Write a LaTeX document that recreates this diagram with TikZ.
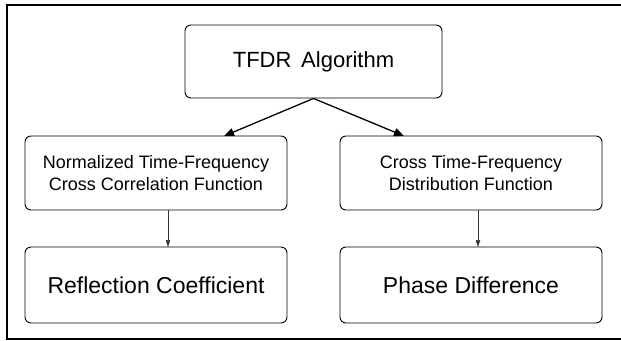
\documentclass[tikz,border=0pt]{standalone}
\usepackage{fontspec}
\setmainfont{Liberation Sans}
\usetikzlibrary{arrows.meta}
\begin{document}
\begin{tikzpicture}[x=1pt,y=-1pt,
  box/.style={draw=black,line width=0.9pt,rounded corners=6pt,inner sep=0pt,align=center},
  bigtext/.style={font=\fontsize{23}{27}\selectfont},
  toptext/.style={font=\fontsize{22}{26}\selectfont},
  midtext/.style={font=\fontsize{18}{22}\selectfont},
  mainarrow/.style={line width=1.3pt,-{Triangle[length=10pt,width=8pt]}},
  thinarrow/.style={line width=0.5pt,draw=black!80,-{Triangle[length=7pt,width=4.5pt]}}
]
\useasboundingbox (0,0) rectangle (621,340);
\fill[white] (0,0) rectangle (621,340);
% frame
\draw[line width=1.6pt] (621,5) -- (7,5) -- (7,340);
\draw[line width=1.4pt] (7,339) -- (621,339);
% nodes
\node[box,toptext,minimum width=257pt,minimum height=73pt] (T) at (313.5,61.5) {TFDR\ \,Algorithm};
\node[box,midtext,minimum width=262pt,minimum height=74pt] (L) at (156,173) {Normalized Time-Frequency\\Cross Correlation Function};
\node[box,midtext,minimum width=262pt,minimum height=74pt] (R) at (471,173) {Cross Time-Frequency\\Distribution Function};
\node[box,bigtext,minimum width=262pt,minimum height=76pt] (LB) at (156,285) {Reflection Coefficient};
\node[box,bigtext,minimum width=262pt,minimum height=76pt] (RB) at (471,285) {Phase Difference};
% connector ends
\coordinate (la) at (224,136);
\coordinate (ra) at (404,136);
\coordinate (lvs) at (168,210);
\coordinate (lve) at (168,247);
\coordinate (rvs) at (478,210);
\coordinate (rve) at (478,247);
\draw[mainarrow] (T.south) -- (la);
\draw[mainarrow] (T.south) -- (ra);
\draw[thinarrow] (lvs) -- (lve);
\draw[thinarrow] (rvs) -- (rve);
\end{tikzpicture}
\end{document}
